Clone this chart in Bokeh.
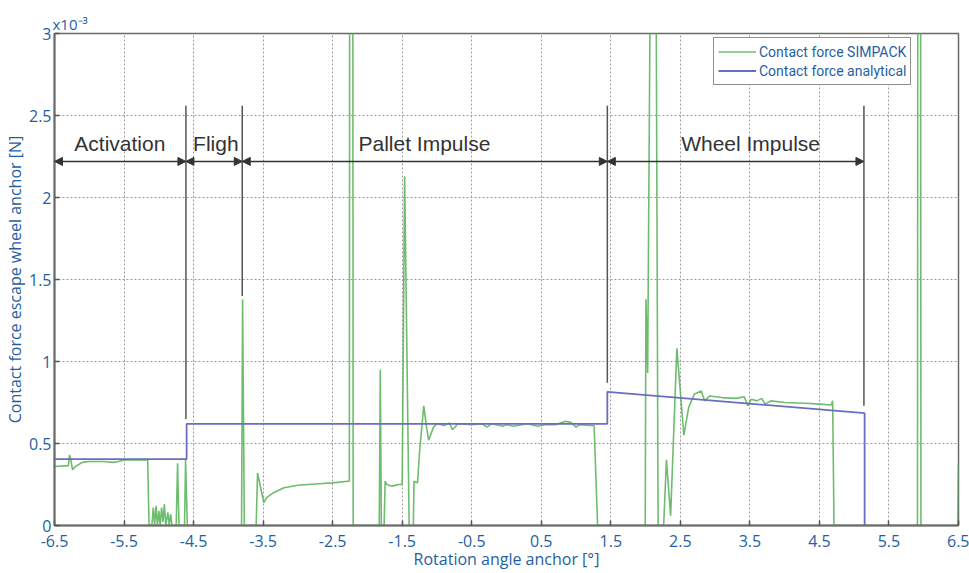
from bokeh.plotting import figure
from bokeh.models import (FixedTicker, Arrow, NormalHead, Legend, LegendItem, Range1d)
from bokeh.core.properties import value
from bokeh.embed import file_html
from bokeh.resources import INLINE

# ---------------- data (force in units of 1e-3 N) ----------------
x_ticks = [-6.5, -5.5, -4.5, -3.5, -2.5, -1.5, -0.5, 0.5, 1.5, 2.5, 3.5, 4.5, 5.5, 6.5]
x_tick_labels = ["-6.5", "-5.5", "-4.5", "-3.5", "-2.5", "-1.5", "-0.5", "0.5",
                 "1.5", "2.5", "3.5", "4.5", "5.5", "6.5"]
y_ticks = [0.0, 0.5, 1.0, 1.5, 2.0, 2.5, 3.0]
y_tick_labels = ["0", "0.5", "1", "1.5", "2", "2.5", "3"]
y_scale_text = "x10⁻³"

analytical_angle = [-6.5, -4.6, -4.6, 1.45, 1.45, 5.15, 5.15]
analytical_force = [0.405, 0.405, 0.62, 0.62, 0.815, 0.685, 0.0]

simpack_angle = [
    -6.5, -6.3, -6.285, -6.27, -6.24, -6.2, -6.1, -6.0, -5.8, -5.65, -5.58, -5.5, -5.16, -5.14,
    -5.1, -5.08, -5.06, -5.04, -5.02, -5.0, -4.98, -4.96, -4.94, -4.92, -4.9, -4.87, -4.85,
    -4.83, -4.81, -4.75, -4.73, -4.71, -4.63, -4.615, -4.59,
    -3.81, -3.795, -3.77,
    -3.6, -3.58, -3.49, -3.45, -3.35, -3.2, -3.0, -2.7, -2.5, -2.28,
    -2.26, -2.255, -2.21, -2.205,
    -1.83, -1.815, -1.8, -1.76, -1.745, -1.72, -1.65, -1.55, -1.5, -1.465, -1.4,
    -1.34, -1.33, -1.28, -1.25, -1.19, -1.15, -1.12, -1.05, -1.0, -0.9, -0.82, -0.78,
    -0.74, -0.7, -0.5, -0.35, -0.28, -0.22, -0.05, 0.0, 0.1, 0.3, 0.45, 0.55, 0.7,
    0.85, 0.92, 1.0, 1.05, 1.2, 1.26, 1.31,
    1.995, 2.005, 2.03, 2.07, 2.15, 2.18,
    2.26, 2.3, 2.36, 2.45, 2.55, 2.62, 2.7, 2.8, 2.85, 2.92, 3.1, 3.3, 3.42, 3.47,
    3.52, 3.6, 3.67, 3.72, 3.8, 4.0, 4.3, 4.5, 4.67, 4.69, 4.71,
    5.91, 5.915, 5.955, 5.96, 6.49, 6.5,
]
simpack_force = [
    0.36, 0.365, 0.43, 0.41, 0.34, 0.36, 0.385, 0.39, 0.39, 0.385, 0.39, 0.40, 0.40, 0.0,
    0.0, 0.11, 0.0, 0.12, 0.0, 0.09, 0.0, 0.11, 0.02, 0.13, 0.0, 0.08, 0.0,
    0.07, 0.0, 0.0, 0.38, 0.0, 0.0, 0.40, 0.0,
    0.0, 1.38, 0.0,
    0.0, 0.32, 0.14, 0.17, 0.20, 0.23, 0.245, 0.255, 0.26, 0.27,
    0.27, 3.5, 3.5, 0.0,
    0.0, 0.95, 0.0, 0.0, 0.27, 0.25, 0.24, 0.25, 0.25, 2.13, 0.0,
    0.0, 0.27, 0.26, 0.45, 0.73, 0.60, 0.52, 0.60, 0.62, 0.61, 0.625, 0.585,
    0.60, 0.62, 0.615, 0.62, 0.60, 0.62, 0.605, 0.615, 0.605, 0.62, 0.605, 0.615, 0.615,
    0.635, 0.63, 0.60, 0.615, 0.61, 0.61, 0.0,
    0.0, 1.38, 0.93, 3.5, 3.5, 0.0,
    0.0, 0.40, 0.06, 1.08, 0.55, 0.72, 0.80, 0.82, 0.76, 0.79, 0.78, 0.775, 0.785, 0.73,
    0.77, 0.76, 0.775, 0.74, 0.76, 0.75, 0.745, 0.74, 0.735, 0.76, 0.0,
    0.0, 3.5, 3.5, 0.0, 0.0, 0.37,
]

phase_names = ["Activation", "Fligh", "Pallet Impulse", "Wheel Impulse"]
phase_edges = [-6.5, -4.61, -3.80, 1.45, 5.14]
phase_label_x = [-5.56, -4.18, -1.18, 3.51]
marker_x = [-4.61, -3.80, 1.45, 5.14]
marker_bottom = [0.65, 1.40, 0.87, 0.73]
marker_top = 2.56
arrow_y = 2.22
label_y = 2.33

# ---------------- styling ----------------
BLUE_TXT = "#1f5f9f"
AX = "#6a6a6a"
GREEN = "#55b055"
PURPLE = "#6a6ec0"

p = figure(width=969, height=572, x_range=Range1d(-6.5, 6.5), y_range=Range1d(0, 3),
           output_backend="svg", toolbar_location=None,
           min_border_left=0, min_border_right=11, min_border_top=33, min_border_bottom=0,
           title=y_scale_text)
p.title.text_font = "Open Sans"
p.title.text_font_size = "15px"
p.title.text_font_style = "normal"
p.title.text_color = BLUE_TXT
p.title.align = "left"
p.title.offset = -2
p.title.standoff = 0
p.background_fill_color = "white"
p.border_fill_color = "white"
p.outline_line_color = AX
p.outline_line_width = 1.5

for ax in (p.xaxis[0], p.yaxis[0]):
    ax.axis_line_color = AX
    ax.axis_line_width = 2
    ax.major_tick_in = 5
    ax.major_tick_out = 0
    ax.major_tick_line_color = "#555555"
    ax.major_tick_line_width = 1.5
    ax.minor_tick_line_color = None
    ax.major_label_text_color = BLUE_TXT
    ax.major_label_text_font = "Open Sans"
    ax.major_label_text_font_size = "16px"
    ax.axis_label_text_color = BLUE_TXT
    ax.axis_label_text_font = "Open Sans"
    ax.axis_label_text_font_size = "16px"
    ax.axis_label_text_font_style = "normal"

p.xaxis.ticker = FixedTicker(ticks=x_ticks)
p.xaxis.major_label_overrides = dict(zip(x_ticks, x_tick_labels))
p.xaxis.axis_label = "Rotation angle anchor [°]"
p.xaxis.major_label_standoff = 9
p.xaxis.axis_label_standoff = -2

p.yaxis.ticker = FixedTicker(ticks=y_ticks)
p.yaxis.major_label_overrides = dict(zip(y_ticks, y_tick_labels))
p.yaxis.axis_label = "Contact force escape wheel anchor [N]"
p.yaxis.major_label_standoff = 3
p.yaxis.axis_label_standoff = 0

p.xgrid.ticker = FixedTicker(ticks=x_ticks)
p.ygrid.ticker = FixedTicker(ticks=y_ticks)
p.grid.grid_line_color = "#9a9a9a"
p.grid.grid_line_dash = "2 2"
p.grid.grid_line_width = 1

# phase annotations
p.segment(x0=marker_x, y0=marker_bottom, x1=marker_x, y1=[marker_top] * len(marker_x),
          line_color="#555555", line_width=1.5)
for i in range(len(phase_names)):
    p.add_layout(Arrow(x_start=phase_edges[i], y_start=arrow_y,
                       x_end=phase_edges[i + 1], y_end=arrow_y,
                       start=NormalHead(size=8, fill_color="#333333", line_color="#333333"),
                       end=NormalHead(size=8, fill_color="#333333", line_color="#333333"),
                       line_color="#333333", line_width=1.5))
p.text(x=phase_label_x, y=[label_y] * len(phase_names), text=phase_names,
       text_font=value("Liberation Sans"), text_font_size="21px", text_align="center",
       text_baseline="middle", text_color="#333333")

# data lines
g = p.line(simpack_angle, simpack_force, line_color=GREEN, line_width=1.6, line_alpha=0.85)
b = p.line(analytical_angle, analytical_force, line_color=PURPLE, line_width=1.8)

legend = Legend(items=[LegendItem(label="Contact force SIMPACK", renderers=[g]),
                       LegendItem(label="Contact force analytical", renderers=[b])],
                location=(659, 440))
legend.border_line_color = "#222222"
legend.border_line_width = 1
legend.background_fill_color = "white"
legend.background_fill_alpha = 1
legend.label_text_color = BLUE_TXT
legend.label_text_font = "Roboto"
legend.label_text_font_size = "14px"
legend.glyph_width = 38
legend.glyph_height = 19
legend.label_height = 19
legend.spacing = 0
legend.padding = 4
legend.margin = 0
legend.label_standoff = 3
p.add_layout(legend)

open("out.html", "w").write(file_html(p, INLINE))
